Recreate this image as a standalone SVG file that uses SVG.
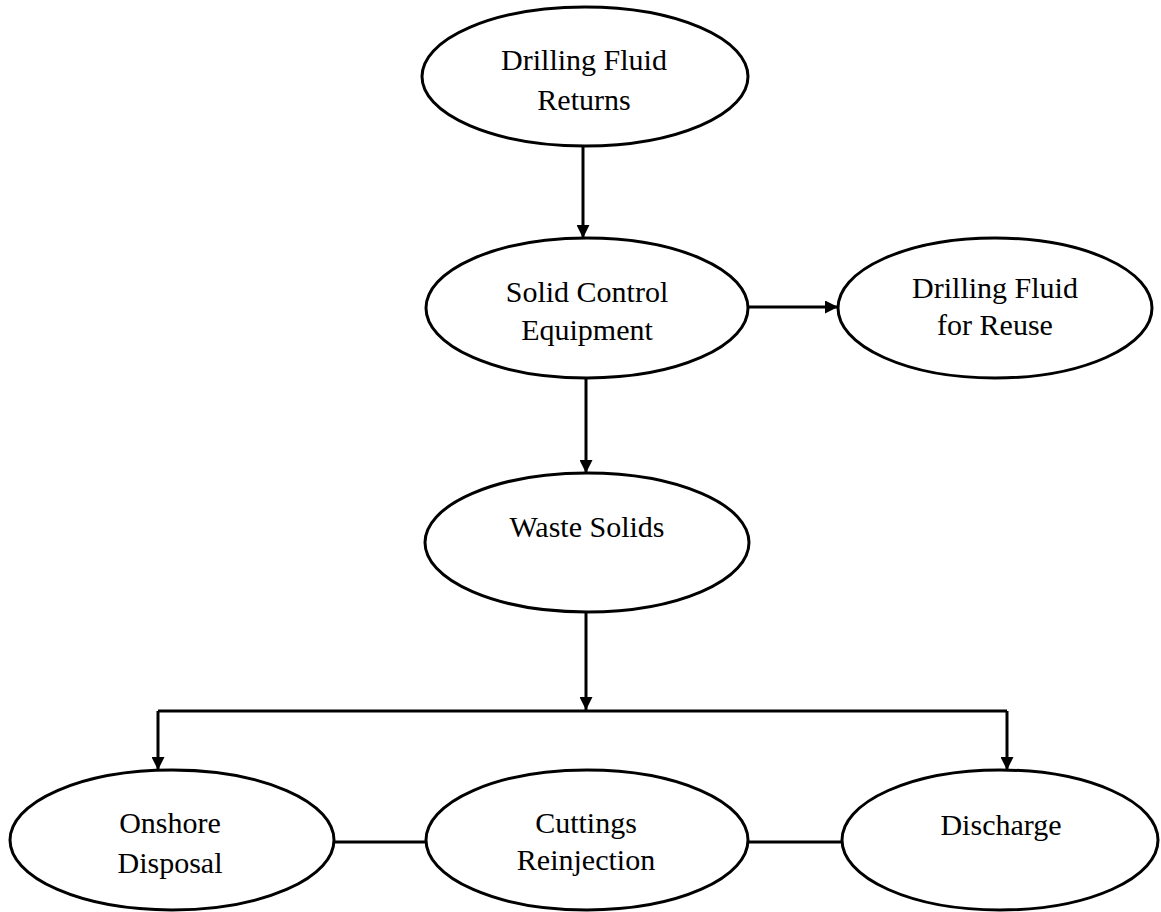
<svg xmlns="http://www.w3.org/2000/svg" width="1161" height="912" viewBox="0 0 1161 912">
<style>
.node ellipse{fill:#fff;stroke:#000;stroke-width:3}
.node text{font-family:"Liberation Serif","Times New Roman",serif;font-size:30px;fill:#000;text-anchor:middle}
.conn line,.conn polyline{stroke:#000;stroke-width:3;fill:none}
</style>
<defs>
<marker id="arr" viewBox="0 0 10 10" refX="10" refY="5" markerWidth="13" markerHeight="13" markerUnits="userSpaceOnUse" orient="auto">
<path d="M0,0 L10,5 L0,10 z" fill="#000"/>
</marker>
</defs>
<g id="connectors" class="conn">
<line x1="583" y1="146" x2="583" y2="238" marker-end="url(#arr)"/>
<line x1="748" y1="307" x2="838" y2="307" marker-end="url(#arr)"/>
<line x1="586" y1="378" x2="586" y2="473" marker-end="url(#arr)"/>
<line x1="586" y1="612" x2="586" y2="710" marker-end="url(#arr)"/>
<line x1="158" y1="711" x2="1007" y2="711"/>
<line x1="158" y1="711" x2="158" y2="770" marker-end="url(#arr)"/>
<line x1="1007" y1="711" x2="1007" y2="770" marker-end="url(#arr)"/>
<line x1="333" y1="842" x2="426" y2="842"/>
<line x1="748" y1="842" x2="842" y2="842"/>
</g>
<g id="n-returns" class="node">
<ellipse cx="585" cy="76.5" rx="163" ry="69.5"/>
<text x="584" y="70">Drilling Fluid</text>
<text x="584" y="110">Returns</text>
</g>
<g id="n-solid-control" class="node">
<ellipse cx="587" cy="308" rx="161" ry="70"/>
<text x="587" y="302">Solid Control</text>
<text x="587" y="340">Equipment</text>
</g>
<g id="n-reuse" class="node">
<ellipse cx="995" cy="308" rx="157" ry="70"/>
<text x="995" y="298">Drilling Fluid</text>
<text x="995" y="335">for Reuse</text>
</g>
<g id="n-waste" class="node">
<ellipse cx="587" cy="542.5" rx="162" ry="69.5"/>
<text x="587" y="537">Waste Solids</text>
</g>
<g id="n-onshore" class="node">
<ellipse cx="172" cy="840" rx="162" ry="70"/>
<text x="170" y="833">Onshore</text>
<text x="170" y="873">Disposal</text>
</g>
<g id="n-reinjection" class="node">
<ellipse cx="587" cy="840" rx="161" ry="70"/>
<text x="586" y="833">Cuttings</text>
<text x="586" y="870">Reinjection</text>
</g>
<g id="n-discharge" class="node">
<ellipse cx="1000" cy="840" rx="158" ry="70"/>
<text x="1001" y="835">Discharge</text>
</g>
</svg>
